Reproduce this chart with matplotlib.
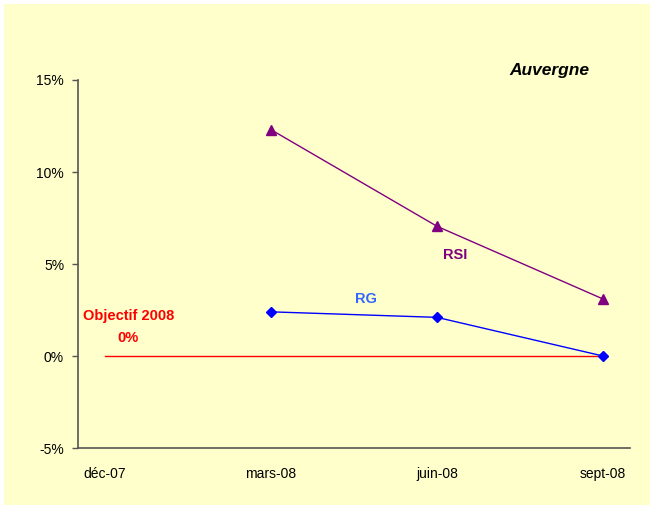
import matplotlib
matplotlib.use("Agg")
import matplotlib.pyplot as plt

plt.rcParams['font.family'] = ['Liberation Sans', 'DejaVu Sans']

# data
months = ['déc-07', 'mars-08', 'juin-08', 'sept-08']
rsi = [None, 12.3, 7.05, 3.1]
rg = [None, 2.4, 2.1, 0.0]
objectif = [0, 0, 0, 0]
yticks = [-5, 0, 5, 10, 15]

bg = '#FFFFCC'
fig = plt.figure(figsize=(6.53, 5.08), dpi=100)
fig.patch.set_facecolor('white')

# yellow chart area with a thin white border
back = fig.add_axes([4 / 653, 3 / 508, 646 / 653, 501 / 508], zorder=-1)
back.set_facecolor(bg)
back.set_xticks([])
back.set_yticks([])
for s in back.spines.values():
    s.set_visible(False)

ax = fig.add_axes([78 / 653, 60 / 508, 552 / 653, 368 / 508])
ax.set_facecolor('none')
x = list(range(len(months)))

ax.plot(x, objectif, color='#FF0000', lw=1.0, zorder=2)

xs = [i for i, v in zip(x, rsi) if v is not None]
ax.plot(xs, [v for v in rsi if v is not None], color='#800080', lw=1.0,
        marker='^', markersize=6.5, zorder=3)
xs = [i for i, v in zip(x, rg) if v is not None]
ax.plot(xs, [v for v in rg if v is not None], color='#0000FF', lw=1.0,
        marker='D', markersize=5, zorder=4)

ax.set_xlim(-0.163, 3.163)
ax.set_ylim(-5, 15)
ax.set_xticks(x)
ax.set_xticklabels(months, fontsize=10)
ax.set_yticks(yticks)
ax.set_yticklabels(['%d%%' % t for t in yticks], fontsize=10)
ax.tick_params(axis='x', length=0, pad=14)
ax.tick_params(axis='y', length=4, width=1, color='#555555', pad=6)

for s in ['top', 'right']:
    ax.spines[s].set_visible(False)
for s in ['left', 'bottom']:
    ax.spines[s].set_color('#555555')
    ax.spines[s].set_linewidth(1.2)

ax.text(2.11, 5.5, 'RSI', color='#800080', fontsize=10.5, fontweight='bold',
        ha='center', va='center')
ax.text(1.57, 3.1, 'RG', color='#3366FF', fontsize=10.5, fontweight='bold',
        ha='center', va='center')
ax.text(0.14, 2.2, 'Objectif 2008', color='#FF0000', fontsize=10.5,
        fontweight='bold', ha='center', va='center')
ax.text(0.14, 1.0, '0%', color='#FF0000', fontsize=10.5, fontweight='bold',
        ha='center', va='center')
ax.text(2.68, 15.5, 'Auvergne', color='black', fontsize=12.5,
        fontweight='bold', fontstyle='italic', ha='center', va='center')

fig.savefig('out.png', dpi=100, facecolor=fig.get_facecolor())
